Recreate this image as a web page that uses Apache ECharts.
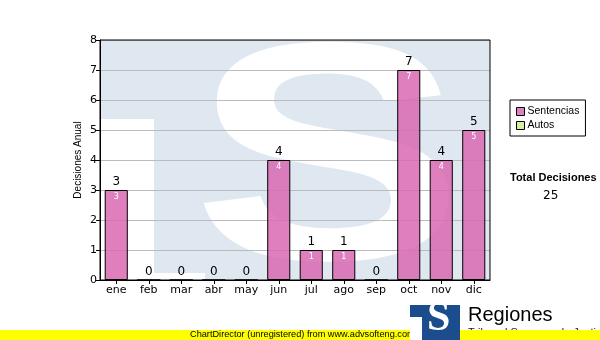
<!DOCTYPE html>
<html><head><meta charset="utf-8">
<script src="https://cdn.jsdelivr.net/npm/echarts@6/dist/echarts.min.js"></script>
<style>html,body{margin:0;padding:0;background:#fff}#c{width:600px;height:340px}</style>
</head><body><div id="c"></div>
<script>
const categories = ['ene','feb','mar','abr','may','jun','jul','ago','sep','oct','nov','dic'];
const sentencias = [3,0,0,0,0,4,1,1,0,7,4,5];
const autos = [0,0,0,0,0,0,0,0,0,0,0,0];
const yMin = 0, yMax = 8, yStep = 1;
const yAxisName = 'Decisiones Anual';
const totalTitle = 'Total Decisiones';
const footerText = 'ChartDirector (unregistered) from www.advsofteng.com';

const totals = sentencias.map((v, i) => v + autos[i]);
const grandTotal = totals.reduce((a, b) => a + b, 0);

const WM = '#dfe8f1';
const FONT = 'DejaVu Sans';

const chart = echarts.init(document.getElementById('c'), null, {renderer: 'canvas'});
chart.setOption({
  animation: false,
  backgroundColor: '#fff',
  grid: {left: 100, right: 110, top: 40, bottom: 60, show: false},
  graphic: [
    // watermark "TS"
    {type: 'rect', z: -10, shape: {x: 100, y: 40, width: 115, height: 79}, style: {fill: WM}, silent: true},
    {type: 'rect', z: -10, shape: {x: 154, y: 119, width: 51, height: 154}, style: {fill: WM}, silent: true},
    {type: 'rect', z: -10, shape: {x: 205, y: 40, width: 285, height: 240}, style: {fill: WM}, silent: true},
    {type: 'text', z: -9, silent: true, x: 328, y: 173, scaleX: 1.3, scaleY: 0.99,
      style: {text: 'S', font: 'bold 314px "Liberation Sans"', fill: '#fff', textAlign: 'center', textVerticalAlign: 'middle'}},
    // right-side total
    {type: 'text', left: 510, top: 172, style: {text: totalTitle, font: 'bold 11px "Liberation Sans"', fill: '#000'}},
    {type: 'text', left: 543, top: 190, style: {text: String(grandTotal), font: '12px ' + FONT, fill: '#000'}},
    // footer
    {type: 'text', left: 468, top: 327, style: {text: 'Tribunal Supremo de Justicia', font: '11px "Liberation Sans"', fill: '#222'}},
    {type: 'rect', shape: {x: 0, y: 330, width: 600, height: 10}, style: {fill: '#ffff00'}, silent: true},
    {type: 'text', left: 190, top: 330, style: {text: footerText, font: '9.2px "Liberation Sans"', fill: '#000'}},
    // logo
    {type: 'rect', shape: {x: 410, y: 305, width: 50, height: 35}, style: {fill: '#1b4d8c'}, silent: true},
    {type: 'rect', shape: {x: 410, y: 317, width: 12, height: 23}, style: {fill: '#fff'}, silent: true},
    {type: 'text', left: 427, top: 298, style: {text: 'S', font: 'bold 42px "Liberation Serif"', fill: '#fff'}},
    {type: 'text', left: 468, top: 305, style: {text: 'Regiones', font: '20px "Liberation Sans"', fill: '#000'}}
  ],
  legend: {
    orient: 'vertical', left: 510, top: 100,
    backgroundColor: '#fff', borderColor: '#000', borderWidth: 1,
    padding: [6, 6, 5, 6], itemGap: 3, itemWidth: 8, itemHeight: 8, icon: 'rect',
    textStyle: {fontFamily: 'Liberation Sans', fontSize: 10.5, color: '#000', padding: [0, 0, 0, -2]},
    data: [
      {name: 'Sentencias', itemStyle: {color: '#df80c0', borderColor: '#000', borderWidth: 1}},
      {name: 'Autos', itemStyle: {color: '#d4f0a0', borderColor: '#000', borderWidth: 1}}
    ]
  },
  xAxis: {
    type: 'category', data: categories,
    axisLine: {show: true, lineStyle: {color: '#000', width: 1}},
    axisTick: {show: true, alignWithLabel: true, length: 4, lineStyle: {color: '#000'}},
    axisLabel: {color: '#000', fontFamily: FONT, fontSize: 11, margin: 5},
    splitLine: {show: false}
  },
  yAxis: {
    type: 'value', min: yMin, max: yMax, interval: yStep,
    name: yAxisName, nameLocation: 'middle', nameGap: 17, nameRotate: 90, nameMoveOverlap: false,
    nameTextStyle: {color: '#000', fontFamily: 'Liberation Sans', fontSize: 10},
    axisLine: {show: true, lineStyle: {color: '#000', width: 1}},
    axisTick: {show: true, length: 4, lineStyle: {color: '#000'}},
    axisLabel: {color: '#000', fontFamily: FONT, fontSize: 11, margin: 3},
    splitLine: {show: true, lineStyle: {color: '#bbbbbb', width: 1}}
  },
  series: [
    {
      name: 'Sentencias', type: 'bar', stack: 'd', data: sentencias, barWidth: '71%',
      itemStyle: {color: 'rgba(217,104,178,0.85)', borderColor: '#000', borderWidth: 1},
      label: {show: true, position: 'insideTop', distance: 3, color: '#fff', fontFamily: FONT, fontSize: 8,
        formatter: p => p.value > 0 ? String(p.value) : ''}
    },
    {
      name: 'Autos', type: 'bar', stack: 'd', data: autos, barWidth: '71%',
      itemStyle: {color: '#d4f0a0', borderWidth: 0},
      label: {show: true, position: 'top', distance: 2, color: '#000', fontFamily: FONT, fontSize: 12,
        formatter: p => String(totals[p.dataIndex])}
    }
  ]
});
// plot border
const r = chart.getModel().getComponent('grid').coordinateSystem.getRect();
chart.setOption({graphic: chart.getOption().graphic[0].elements.concat([
  {type: 'rect', z: 5, silent: true, shape: {x: r.x, y: r.y, width: r.width, height: r.height}, style: {fill: null, stroke: '#000', lineWidth: 1}}
])}, {replaceMerge: ['graphic']});
</script></body></html>
